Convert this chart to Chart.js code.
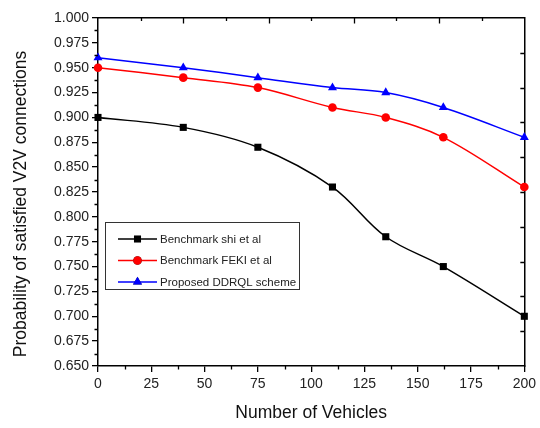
<!DOCTYPE html>
<html><head><meta charset="utf-8">
<script src="https://cdn.jsdelivr.net/npm/chart.js@4"></script>
<style>html,body{margin:0;padding:0;background:#fff}</style>
</head><body>
<canvas id="c" width="540" height="428" style="display:block;width:540px;height:428px"></canvas>
<script>
const vehicles = [0, 40, 75, 110, 135, 162, 200];
const shiValues = [0.900, 0.890, 0.870, 0.830, 0.780, 0.750, 0.700];
const fekiValues = [0.950, 0.940, 0.930, 0.910, 0.900, 0.880, 0.830];
const ddrqlValues = [0.960, 0.950, 0.940, 0.930, 0.925, 0.910, 0.880];
const seriesNames = ['Benchmark shi et al', 'Benchmark FEKI et al', 'Proposed DDRQL scheme'];
const xTitle = 'Number of Vehicles';
const yTitle = 'Probability of satisfied V2V connections';
const xMin = 0, xMax = 200, xStep = 25;
const yMin = 0.65, yMax = 1.0, yStep = 0.025;

const FONT = "'Liberation Sans', Arial, sans-serif";
const mk = (vals) => vehicles.map((x, i) => ({x: x, y: vals[i]}));

const datasets = [
  {label: seriesNames[0], data: mk(shiValues), borderColor: '#000000', backgroundColor: '#000000', pointStyle: 'rect', pointRadius: 5},
  {label: seriesNames[1], data: mk(fekiValues), borderColor: '#ff0000', backgroundColor: '#ff0000', pointStyle: 'circle', pointRadius: 4.3},
  {label: seriesNames[2], data: mk(ddrqlValues), borderColor: '#0000ff', backgroundColor: '#0000ff', pointStyle: 'triangle', pointRadius: 5.2}
].map(d => Object.assign(d, {borderWidth: 1.5, tension: 0.35, clip: false, pointBorderWidth: 0, pointHoverRadius: 5}));

const tickPlugin = {
  id: 'originTicks',
  afterDraw(chart) {
    const ctx = chart.ctx, s = chart.scales, a = chart.chartArea;
    ctx.save();
    ctx.strokeStyle = '#000';
    ctx.lineWidth = 1.3;
    ctx.beginPath();
    for (let v = xMin + xStep / 2; v < xMax; v += xStep) {
      const px = Math.round(s.x.getPixelForValue(v)) + 0.5;
      ctx.moveTo(px, a.bottom); ctx.lineTo(px, a.bottom + 3.5);
    }
    for (let v = yMin + yStep / 2; v < yMax; v += yStep) {
      const py = Math.round(s.y.getPixelForValue(v)) + 0.5;
      ctx.moveTo(a.left, py); ctx.lineTo(a.left - 3.5, py);
    }
    for (let v = 1; v < 10; v++) {
      const px = Math.round(s.x2.getPixelForValue(v)) + 0.5;
      ctx.moveTo(px, a.top); ctx.lineTo(px, a.top + (v % 2 === 0 ? 5.5 : 3));
    }
    for (let v = 1; v < 10; v++) {
      const py = Math.round(s.y2.getPixelForValue(v)) + 0.5;
      ctx.moveTo(a.right, py); ctx.lineTo(a.right - 4, py);
    }
    ctx.stroke();

    // y axis title
    ctx.save();
    ctx.translate(21.5, 204);
    ctx.rotate(-Math.PI / 2);
    ctx.fillStyle = '#111';
    ctx.font = '17.5px ' + FONT;
    ctx.textAlign = 'center';
    ctx.textBaseline = 'middle';
    ctx.fillText(yTitle, 0, 0);
    ctx.restore();

    // legend box
    const bx = 105.5, by = 222.5, bw = 194, bh = 67;
    ctx.lineWidth = 1;
    ctx.strokeStyle = '#333';
    ctx.fillStyle = '#fff';
    ctx.fillRect(bx, by, bw, bh);
    ctx.strokeRect(bx, by, bw, bh);
    const rows = [239, 260.5, 282];
    chart.data.datasets.forEach((d, i) => {
      const y = rows[i];
      ctx.strokeStyle = d.borderColor;
      ctx.lineWidth = 1.5;
      ctx.beginPath(); ctx.moveTo(118, y); ctx.lineTo(157, y); ctx.stroke();
      Chart.helpers.drawPoint(ctx, {pointStyle: d.pointStyle, radius: d.pointRadius, borderWidth: 0, rotation: 0}, 137.5, y);
      ctx.fillStyle = d.backgroundColor;
      ctx.fill();
      ctx.fillStyle = '#222';
      ctx.font = '11.5px ' + FONT;
      ctx.textBaseline = 'middle';
      ctx.textAlign = 'left';
      ctx.fillText(d.label, 160, y + 0.5);
    });
    ctx.restore();
  }
};

new Chart(document.getElementById('c'), {
  type: 'line',
  data: {datasets},
  plugins: [tickPlugin],
  options: {
    responsive: false,
    animation: false,
    devicePixelRatio: 1,
    layout: {padding: 0},
    plugins: {legend: {display: false}, tooltip: {enabled: false}},
    scales: {
      x: {
        type: 'linear', position: 'bottom', min: xMin, max: xMax,
        ticks: {stepSize: xStep, color: '#222', font: {family: FONT, size: 14}, padding: 4, maxRotation: 0, autoSkip: false},
        grid: {drawOnChartArea: false, tickLength: 6, color: '#000', lineWidth: 1.3},
        border: {color: '#000', width: 1.5},
        title: {display: true, text: xTitle, color: '#111', font: {family: FONT, size: 17.5}, padding: {top: 10}},
        afterFit: s => { s.height = 62; }
      },
      y: {
        type: 'linear', position: 'left', min: yMin, max: yMax,
        ticks: {stepSize: yStep, color: '#222', font: {family: FONT, size: 14}, padding: 3, autoSkip: false, callback: v => Number(v).toFixed(3)},
        grid: {drawOnChartArea: false, tickLength: 6, color: '#000', lineWidth: 1.3},
        border: {color: '#000', width: 1.5},
        title: {display: false},
        afterFit: s => { s.width = 98; }
      },
      x2: {
        type: 'linear', position: 'top', min: 0, max: 10,
        ticks: {display: false}, grid: {display: false},
        border: {display: true, color: '#000', width: 1.5},
        afterFit: s => { s.height = 18; }
      },
      y2: {
        type: 'linear', position: 'right', min: 0, max: 10,
        ticks: {display: false}, grid: {display: false},
        border: {display: true, color: '#000', width: 1.5},
        afterFit: s => { s.width = 15; }
      }
    }
  }
});
</script>
</body></html>
